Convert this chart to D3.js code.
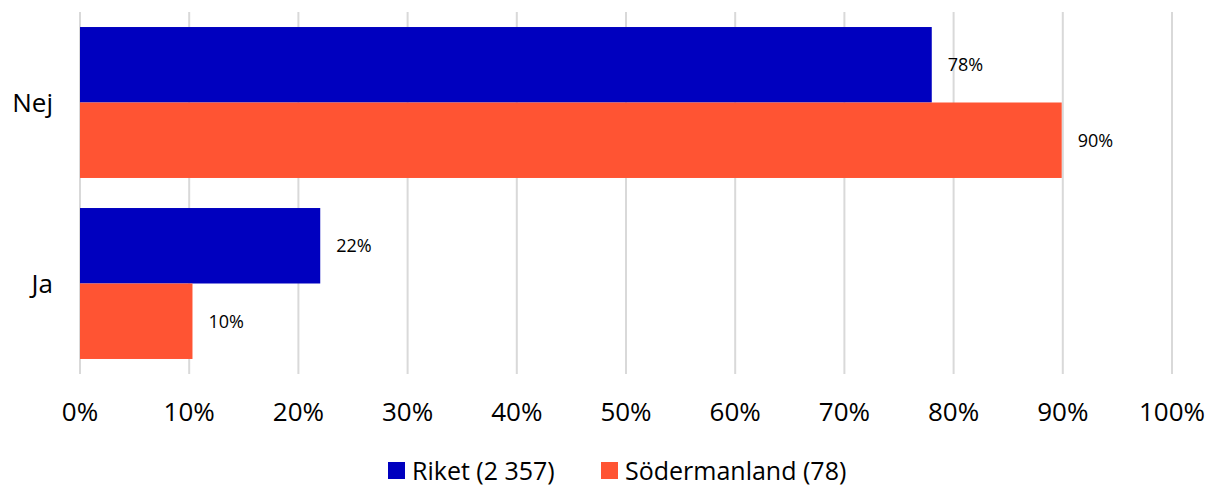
<!DOCTYPE html>
<html>
<head>
<meta charset="utf-8">
<script src="https://cdn.jsdelivr.net/npm/d3@7"></script>
<style>
  body { margin: 0; background: #fff; }
  text { font-family: "Open Sans", sans-serif; fill: #000; }
</style>
</head>
<body>
<script>
const categories = ['Nej', 'Ja'];
const seriesNames = ['Riket (2 357)', 'Södermanland (78)'];
const riket = [78, 22];
const sodermanland = [89.9, 10.3];
const tickValues = [0, 10, 20, 30, 40, 50, 60, 70, 80, 90, 100];
const colors = ['#0000BF', '#FF5433'];

const width = 1210, height = 486;
const margin = { left: 80, right: 38, top: 12, bottom: 112 };

const svg = d3.select('body')
    .append('svg')
    .attr('width', width)
    .attr('height', height);

const x = d3.scaleLinear()
    .domain([0, 100])
    .range([margin.left, width - margin.right]);

const y = d3.scaleBand()
    .domain(categories)
    .range([margin.top, height - margin.bottom])
    .paddingInner(0.166)
    .paddingOuter(0.083);

const ySub = d3.scaleBand()
    .domain(seriesNames)
    .range([0, y.bandwidth()]);

// gridlines
svg.append('g')
    .selectAll('line')
    .data(tickValues)
    .enter()
    .append('line')
    .attr('x1', d => x(d))
    .attr('x2', d => x(d))
    .attr('y1', margin.top)
    .attr('y2', height - margin.bottom)
    .attr('stroke', '#d9d9d9')
    .attr('stroke-width', 2);

// x tick labels
svg.append('g')
    .selectAll('text')
    .data(tickValues)
    .enter()
    .append('text')
    .attr('x', d => x(d))
    .attr('y', 421)
    .attr('text-anchor', 'middle')
    .style('font-size', '26px')
    .text(d => d + '%');

// category labels
svg.append('g')
    .selectAll('text')
    .data(categories)
    .enter()
    .append('text')
    .attr('x', 53)
    .attr('y', d => y(d) + y.bandwidth() / 2)
    .attr('dy', '0.35em')
    .attr('text-anchor', 'end')
    .style('font-size', '26px')
    .text(d => d);

const series = [riket, sodermanland];

series.forEach((vals, si) => {
    const g = svg.append('g');
    const rows = categories.map((c, i) => ({ cat: c, value: vals[i] }));

    g.selectAll('rect')
        .data(rows)
        .enter()
        .append('rect')
        .attr('x', x(0))
        .attr('y', d => y(d.cat) + ySub(seriesNames[si]))
        .attr('width', d => x(d.value) - x(0))
        .attr('height', ySub.bandwidth())
        .attr('fill', colors[si]);

    g.selectAll('text')
        .data(rows)
        .enter()
        .append('text')
        .attr('x', d => x(d.value) + 16)
        .attr('y', d => y(d.cat) + ySub(seriesNames[si]) + ySub.bandwidth() / 2)
        .attr('dy', '0.35em')
        .style('font-size', '18px')
        .text(d => Math.round(d.value) + '%');
});

// legend
const legendX = [388, 601];
const legend = svg.append('g')
    .selectAll('g')
    .data(seriesNames)
    .enter()
    .append('g')
    .attr('transform', (d, i) => `translate(${legendX[i]},462)`);

legend.append('rect')
    .attr('width', 17)
    .attr('height', 17)
    .attr('fill', (d, i) => colors[i]);

legend.append('text')
    .attr('x', 24)
    .attr('y', 9)
    .attr('dy', '0.35em')
    .style('font-size', '25px')
    .text(d => d);
</script>
</body>
</html>
